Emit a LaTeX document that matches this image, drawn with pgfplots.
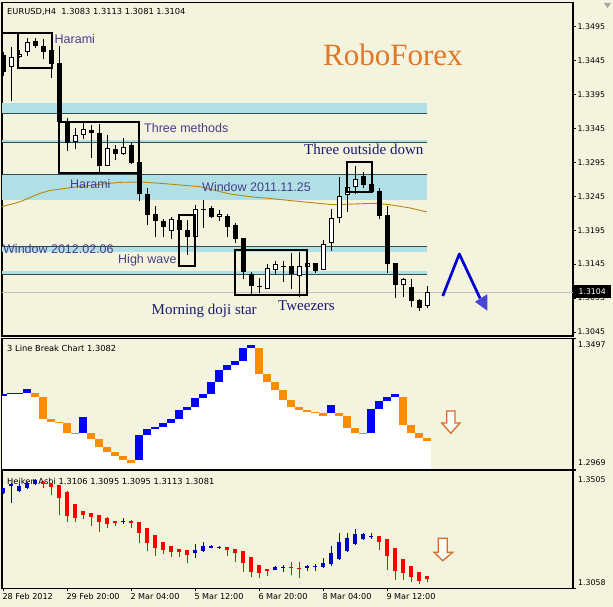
\documentclass[border=0pt]{standalone}
\usepackage{fontspec}
\setmainfont{Liberation Sans}
\newfontfamily\tah{DejaVu Sans}
\newfontfamily\tnr{Liberation Serif}
\usepackage{pgfplots}
\usepackage{pgfplotstable}
\pgfplotsset{compat=1.18}
\definecolor{bgc}{RGB}{243,243,222}
\definecolor{band}{RGB}{176,224,230}
\definecolor{bandline}{RGB}{47,79,79}
\definecolor{ma}{RGB}{184,134,11}
\definecolor{lab}{RGB}{72,61,139}
\definecolor{lab2}{RGB}{25,25,112}
\definecolor{robo}{RGB}{224,120,40}
\definecolor{lbblue}{RGB}{0,0,255}
\definecolor{lborange}{RGB}{255,140,0}
\definecolor{hablue}{RGB}{0,0,205}
\definecolor{hared}{RGB}{255,0,0}
\definecolor{arrowblue}{RGB}{0,0,210}
\definecolor{arrowhead}{RGB}{70,70,210}
\definecolor{hollow}{RGB}{214,110,40}
\pgfplotsset{
  panel/.style={
    scale only axis, width=571pt, anchor=south west,
    xmin=-0.1625, xmax=71.2125,
    clip mode=individual,
    axis line style={black, line width=1.2pt},
    tick style={black, line width=0.8pt},
    tick align=outside, major tick length=3pt,
    ytick pos=right,
    ticklabel style={font=\tah\fontsize{7.8}{9}\selectfont, text=black},
  },
  body/.style={draw=none, mark=none, error bars/.cd, y dir=plus, y explicit, error mark=none, error bar style={#1}},
}
\newcommand{\tf}{\tah\fontsize{7.8}{9}\selectfont}
\newcommand{\tfh}{\tah\fontsize{8.3}{10}\selectfont}

% top panel candles: i open high low close
\pgfplotstableread{
i O H L C
1 1.3436 1.3465 1.3385 1.3450
2 1.3451 1.3461 1.3449 1.3455
3 1.3458 1.3478 1.3452 1.3472
9 1.3325 1.3345 1.3315 1.3336
10 1.3336 1.3353 1.3330 1.3344
13 1.3290 1.3335 1.3289 1.3316
15 1.3308 1.3331 1.3306 1.3318
21 1.3194 1.3214 1.3182 1.3212
24 1.3185 1.3232 1.3184 1.3226
27 1.3215 1.3225 1.3209 1.3219
33 1.3108 1.3145 1.3108 1.3139
34 1.3137 1.3150 1.3131 1.3145
37 1.3128 1.3163 1.3097 1.3142
38 1.3141 1.3151 1.3139 1.3147
40 1.3137 1.3180 1.3136 1.3175
41 1.3176 1.3226 1.3165 1.3213
42 1.3213 1.3273 1.3206 1.3246
43 1.3247 1.3272 1.3222 1.3259
44 1.3259 1.3290 1.3249 1.3271
50 1.3114 1.3124 1.3097 1.3123
53 1.3083 1.3113 1.3081 1.3104
}\bull
\pgfplotstableread{
i O H L C
0 1.3453 1.3458 1.3422 1.3428
4 1.3474 1.3478 1.3464 1.3466
5 1.3467 1.3477 1.3447 1.3458
6 1.3461 1.3462 1.3420 1.3440
7 1.3441 1.3467 1.3353 1.3354
8 1.3355 1.3361 1.3312 1.3323
11 1.3343 1.3350 1.3302 1.3339
12 1.3339 1.3351 1.3281 1.3289
14 1.3315 1.3321 1.3298 1.3308
16 1.3321 1.3325 1.3292 1.3294
17 1.3295 1.3296 1.3238 1.3249
18 1.3248 1.3257 1.3203 1.3218
19 1.3219 1.3230 1.3185 1.3209
20 1.3209 1.3211 1.3185 1.3200
22 1.3210 1.3217 1.3194 1.3195
23 1.3195 1.3210 1.3159 1.3185
25 1.3226 1.3240 1.3198 1.3225
26 1.3228 1.3230 1.3213 1.3215
28 1.3216 1.3219 1.3185 1.3200
29 1.3203 1.3206 1.3176 1.3182
30 1.3183 1.3184 1.3123 1.3134
31 1.3131 1.3134 1.3101 1.3113
32 1.3113 1.3124 1.3103 1.3112
35 1.3143 1.3149 1.3119 1.3142
36 1.3142 1.3161 1.3109 1.3131
39 1.3146 1.3147 1.3132 1.3135
45 1.3275 1.3281 1.3257 1.3262
46 1.3263 1.3264 1.3251 1.3252
47 1.3253 1.3257 1.3211 1.3216
48 1.3217 1.3231 1.3132 1.3145
49 1.3146 1.3147 1.3095 1.3114
51 1.3112 1.3123 1.3082 1.3091
52 1.3092 1.3093 1.3076 1.3081
}\bear

% 3 line break: column, low, high
\pgfplotstableread{
c lo hi
0 1.3264 1.3272
1 1.3272 1.3275
2 1.3275 1.3278
3 1.3278 1.3291
10 1.3116 1.3180
17 1.3006 1.3106
18 1.3106 1.3131
19 1.3131 1.3139
20 1.3139 1.3156
21 1.3156 1.3172
22 1.3172 1.3208
23 1.3208 1.3220
24 1.3220 1.3256
25 1.3256 1.3272
26 1.3272 1.3321
27 1.3321 1.3370
28 1.3370 1.3391
29 1.3391 1.3407
30 1.3407 1.3457
31 1.3457 1.3470
41 1.3196 1.3228
46 1.3115 1.3212
47 1.3212 1.3244
48 1.3244 1.3260
49 1.3260 1.3272
}\lbup
\pgfplotstableread{
c lo hi
4 1.3262 1.3278
5 1.3172 1.3262
6 1.3161 1.3172
7 1.3157 1.3161
8 1.3116 1.3157
9 1.3112 1.3116
11 1.3092 1.3116
12 1.3060 1.3092
13 1.3040 1.3060
14 1.3023 1.3040
15 1.3006 1.3023
16 1.2996 1.3006
32 1.3354 1.3457
33 1.3321 1.3354
34 1.3289 1.3321
35 1.3248 1.3289
36 1.3220 1.3248
37 1.3208 1.3220
38 1.3200 1.3208
39 1.3196 1.3200
40 1.3184 1.3196
42 1.3184 1.3196
43 1.3135 1.3184
44 1.3115 1.3135
45 1.3111 1.3115
50 1.3147 1.3260
51 1.3115 1.3147
52 1.3095 1.3115
53 1.3082 1.3095
}\lbdown

% Heiken Ashi: i open high low close
\pgfplotstableread{
i O H L C
0 1.3417 1.3438 1.3414 1.3436
1 1.3445 1.3455 1.3379 1.3452
2 1.3426 1.3451 1.3423 1.3446
3 1.3438 1.3461 1.3433 1.3455
4 1.3451 1.3471 1.3448 1.3467
15 1.3307 1.3323 1.3300 1.3312
24 1.3193 1.3225 1.3174 1.3203
25 1.3199 1.3232 1.3194 1.3219
26 1.3211 1.3222 1.3209 1.3219
27 1.3211 1.3218 1.3205 1.3213
34 1.3127 1.3141 1.3126 1.3138
35 1.3136 1.3146 1.3119 1.3138
38 1.3134 1.3146 1.3123 1.3143
39 1.3140 1.3149 1.3123 1.3142
40 1.3140 1.3171 1.3136 1.3152
41 1.3149 1.3219 1.3143 1.3190
42 1.3169 1.3266 1.3165 1.3232
43 1.3199 1.3266 1.3194 1.3247
44 1.3224 1.3282 1.3222 1.3262
45 1.3244 1.3266 1.3242 1.3262
46 1.3253 1.3266 1.3244 1.3257
}\habull
\pgfplotstableread{
i O H L C
5 1.3460 1.3463 1.3438 1.3452
6 1.3455 1.3456 1.3411 1.3442
7 1.3448 1.3449 1.3335 1.3398
8 1.3423 1.3424 1.3307 1.3332
9 1.3375 1.3376 1.3310 1.3325
10 1.3350 1.3351 1.3320 1.3335
11 1.3341 1.3342 1.3295 1.3329
12 1.3335 1.3336 1.3272 1.3310
13 1.3325 1.3329 1.3285 1.3302
14 1.3312 1.3313 1.3295 1.3304
16 1.3312 1.3316 1.3285 1.3305
17 1.3307 1.3310 1.3230 1.3268
18 1.3285 1.3286 1.3199 1.3230
19 1.3259 1.3260 1.3181 1.3209
20 1.3232 1.3233 1.3187 1.3202
21 1.3218 1.3219 1.3177 1.3196
22 1.3207 1.3208 1.3177 1.3196
23 1.3203 1.3204 1.3155 1.3184
28 1.3214 1.3215 1.3181 1.3203
29 1.3207 1.3208 1.3159 1.3190
30 1.3199 1.3200 1.3121 1.3155
31 1.3176 1.3177 1.3100 1.3121
32 1.3146 1.3147 1.3098 1.3115
33 1.3131 1.3132 1.3106 1.3123
36 1.3137 1.3159 1.3108 1.3134
37 1.3136 1.3156 1.3096 1.3133
47 1.3256 1.3257 1.3203 1.3234
48 1.3244 1.3245 1.3127 1.3181
49 1.3209 1.3210 1.3089 1.3123
50 1.3168 1.3169 1.3089 1.3117
51 1.3142 1.3143 1.3081 1.3102
52 1.3119 1.3120 1.3074 1.3086
53 1.3106 1.3106 1.3081 1.3095
}\habear

\begin{document}
\begin{tikzpicture}
\fill[bgc] (0,0) rectangle (613pt,607pt);

% ---------------- top panel ----------------
\begin{axis}[panel, at={(2pt,271pt)}, height=333.3pt,
  ymin=1.30391, ymax=1.35304, xtick=\empty,
  ytick={1.3045,1.3095,1.3145,1.3195,1.3245,1.3295,1.3345,1.3395,1.3445,1.3495},
  yticklabels={1.3045,1.3095,1.3145,1.3195,1.3245,1.3295,1.3345,1.3395,1.3445,1.3495},
  yticklabel style={anchor=west, inner sep=0pt, xshift=1.5pt}]
% bands
\fill[band] (axis cs:-0.1625,1.33674) rectangle (axis cs:52.9,1.33821);
\draw[bandline, line width=1pt] (axis cs:-0.1625,1.33674) -- (axis cs:52.9,1.33674);
\fill[band] (axis cs:-0.1625,1.33231) rectangle (axis cs:52.9,1.33280);
\draw[bandline, line width=1pt] (axis cs:-0.1625,1.33240) -- (axis cs:52.9,1.33240);
\fill[band] (axis cs:-0.1625,1.32396) rectangle (axis cs:52.9,1.32774);
\draw[bandline, line width=1pt] (axis cs:-0.1625,1.32774) -- (axis cs:52.9,1.32774);
\fill[band] (axis cs:-0.1625,1.31633) rectangle (axis cs:52.9,1.31707);
\draw[bandline, line width=1pt] (axis cs:-0.1625,1.31707) -- (axis cs:52.9,1.31707);
\fill[band] (axis cs:-0.1625,1.31300) rectangle (axis cs:52.9,1.31349);
\draw[bandline, line width=1pt] (axis cs:-0.1625,1.31300) -- (axis cs:52.9,1.31300);
% current price line
\draw[black!25, line width=0.8pt] (axis cs:-0.1625,1.3104) -- (axis cs:71.2125,1.3104);
% moving average
\addplot[ma, line width=0.9pt] coordinates {
(-0.16,1.32297) (2.09,1.32370) (4.59,1.32494) (5.84,1.32536) (8.34,1.32577)
(12.09,1.32627) (14.59,1.32656) (17.09,1.32661) (19.59,1.32642) (22.09,1.32617)
(24.59,1.32592) (28.34,1.32484) (30.84,1.32444) (33.34,1.32418) (35.84,1.32388)
(38.34,1.32359) (41.21,1.32326) (43.96,1.32337) (46.46,1.32347) (48.34,1.32326)
(50.84,1.32278) (52.96,1.32219)};
% candles: wicks, then bodies
\addplot[body={draw=black, line width=1pt}] table[x=i, y=L, y error expr=\thisrow{H}-\thisrow{L}] {\bull};
\addplot[body={draw=black, line width=1pt}] table[x=i, y=L, y error expr=\thisrow{H}-\thisrow{L}] {\bear};
\addplot[body={draw=black, line width=5pt}] table[x=i, y=C, y error expr=\thisrow{O}-\thisrow{C}] {\bear};
\addplot[body={draw=black, line width=5pt}] table[x=i, y=O, y error expr=\thisrow{C}-\thisrow{O}] {\bull};
\addplot[body={draw=white, line width=3pt, shorten <=1pt, shorten >=1pt}] table[x=i, y=O, y error expr=\thisrow{C}-\thisrow{O}] {\bull};
% pattern boxes
\draw[black, line width=2pt] (axis cs:1.875,1.34853) rectangle (axis cs:6.05,1.34346);
\draw[black, line width=2pt] (axis cs:-0.1625,1.34853) -- (axis cs:1.875,1.34853);
\draw[black, line width=2pt] (axis cs:6.9,1.33550) rectangle (axis cs:16.94,1.32789);
\draw[black, line width=2pt] (axis cs:21.96,1.32174) rectangle (axis cs:23.96,1.31423);
\draw[black, line width=2pt] (axis cs:28.96,1.31659) rectangle (axis cs:38.0,1.30995);
\draw[black, line width=2pt] (axis cs:43.0,1.32960) rectangle (axis cs:46.05,1.32518);
% labels
\node[anchor=base west, inner sep=0pt, text=black, font=\tfh] at (axis cs:0.46,1.35137) {EURUSD,H4\ \ 1.3083 1.3113 1.3081 1.3104};
\node[anchor=base west, inner sep=0pt, text=lab, font=\fontsize{12.5}{14}\selectfont] at (axis cs:6.4,1.34705) {Harami};
\node[anchor=base west, inner sep=0pt, text=lab, font=\fontsize{12.5}{14}\selectfont] at (axis cs:17.59,1.33388) {Three methods};
\node[anchor=base west, inner sep=0pt, text=lab, font=\fontsize{12.5}{14}\selectfont] at (axis cs:8.34,1.32568) {Harami};
\node[anchor=base west, inner sep=0pt, text=lab, font=\fontsize{12.5}{14}\selectfont] at (axis cs:24.84,1.32528) {Window 2011.11.25};
\node[anchor=base west, inner sep=0pt, text=lab, font=\fontsize{12.5}{14}\selectfont] at (axis cs:-0.04,1.31600) {Window 2012.02.06};
\node[anchor=base west, inner sep=0pt, text=lab, font=\fontsize{12.5}{14}\selectfont] at (axis cs:14.34,1.31462) {High wave};
\node[anchor=base west, inner sep=0pt, text=lab2, font=\tnr\fontsize{15}{17}\selectfont] at (axis cs:37.59,1.33059) {Three outside down};
\node[anchor=base west, inner sep=0pt, text=lab2, font=\tnr\fontsize{15}{17}\selectfont] at (axis cs:18.53,1.30715) {Morning doji star};
\node[anchor=base west, inner sep=0pt, text=lab2, font=\tnr\fontsize{15}{17}\selectfont] at (axis cs:34.34,1.30774) {Tweezers};
\node[anchor=base west, inner sep=0pt, text=robo, font=\tnr\fontsize{31}{34}\selectfont] at (axis cs:39.96,1.34385) {RoboForex};
% forecast arrow
\draw[arrowblue, line width=2.7pt, line join=round] (axis cs:54.93,1.30980) -- (axis cs:57.0,1.31600) -- (axis cs:59.59,1.30947);
\fill[arrowhead] (axis cs:58.96,1.30896) -- (axis cs:60.5,1.31006) -- (axis cs:60.5,1.30764) -- cycle;
\coordinate (pbox) at (axis cs:71.2125,1.3104);
\end{axis}
\node[fill=black, text=white, anchor=west, minimum width=38pt, minimum height=13pt, inner sep=0pt, font=\tf] at (pbox) {1.3104};
\fill[black!35] (604pt,604pt) -- (611pt,604pt) -- (607.5pt,599pt) -- cycle;

% ---------------- 3 line break panel ----------------
\begin{axis}[panel, at={(2pt,137.7pt)}, height=131pt,
  ymin=1.2969, ymax=1.3497, xtick=\empty,
  ytick={1.2969,1.3497}, yticklabels={,}]
\addplot[body={draw=white, line width=8.3pt}] table[x=c, y expr=1.29, y error expr=\thisrow{lo}-1.29] {\lbup};
\addplot[body={draw=white, line width=8.3pt}] table[x=c, y expr=1.29, y error expr=\thisrow{lo}-1.29] {\lbdown};
\addplot[body={draw=lbblue, line width=8pt}] table[x=c, y=lo, y error expr=\thisrow{hi}-\thisrow{lo}] {\lbup};
\addplot[body={draw=lborange, line width=8pt}] table[x=c, y=lo, y error expr=\thisrow{hi}-\thisrow{lo}] {\lbdown};
\draw[hollow, line width=1.3pt, fill=white!70!bgc, line join=miter]
  (axis cs:55.44,1.32040) -- (axis cs:56.46,1.32040) -- (axis cs:56.46,1.31556) -- (axis cs:57.09,1.31556)
  -- (axis cs:55.94,1.31141) -- (axis cs:54.8,1.31556) -- (axis cs:55.44,1.31556) -- cycle;
\node[anchor=base west, inner sep=0pt, font=\tfh] at (rel axis cs:0.0088,0.903) {3 Line Break Chart 1.3082};
\node[anchor=west, inner sep=0pt, font=\tf] at (rel axis cs:1,0.949) [xshift=5pt] {1.3497};
\node[anchor=west, inner sep=0pt, font=\tf] at (rel axis cs:1,0.050) [xshift=5pt] {1.2969};
\end{axis}

% ---------------- Heiken Ashi panel ----------------
\begin{axis}[panel, at={(2pt,18.7pt)}, height=118.3pt,
  ymin=1.3058, ymax=1.3505,
  ytick={1.3058,1.3505}, yticklabels={,},
  xtick={0,8,16,24,32,40,48}, xtick pos=bottom,
  xticklabels={28 Feb 2012,29 Feb 20:00,2 Mar 04:00,5 Mar 12:00,6 Mar 20:00,8 Mar 04:00,9 Mar 12:00},
  xticklabel style={anchor=north west, inner sep=0pt, xshift=-1pt, yshift=-2pt, font=\tah\fontsize{8.1}{9}\selectfont}]
\node[anchor=base west, inner sep=0pt, font=\tfh] at (rel axis cs:0.0088,0.879) {Heiken Ashi 1.3106 1.3095 1.3095 1.3113 1.3081};
\addplot[body={draw=hablue, line width=1pt}] table[x=i, y=L, y error expr=\thisrow{H}-\thisrow{L}] {\habull};
\addplot[body={draw=hared, line width=1pt}] table[x=i, y=L, y error expr=\thisrow{H}-\thisrow{L}] {\habear};
\addplot[body={draw=hablue, line width=4pt}] table[x=i, y=O, y error expr=\thisrow{C}-\thisrow{O}] {\habull};
\addplot[body={draw=hared, line width=4pt}] table[x=i, y=C, y error expr=\thisrow{O}-\thisrow{C}] {\habear};
\draw[hollow, line width=1.3pt, fill=white!70!bgc, line join=miter]
  (axis cs:54.38,1.32470) -- (axis cs:55.5,1.32470) -- (axis cs:55.5,1.31941) -- (axis cs:56.18,1.31941)
  -- (axis cs:54.93,1.31623) -- (axis cs:53.84,1.31941) -- (axis cs:54.38,1.31941) -- cycle;
\node[anchor=west, inner sep=0pt, font=\tf] at (rel axis cs:1,0.9155) [xshift=5pt] {1.3505};
\node[anchor=west, inner sep=0pt, font=\tf] at (rel axis cs:1,0.0507) [xshift=5pt] {1.3058};
\end{axis}
\end{tikzpicture}
\end{document}
